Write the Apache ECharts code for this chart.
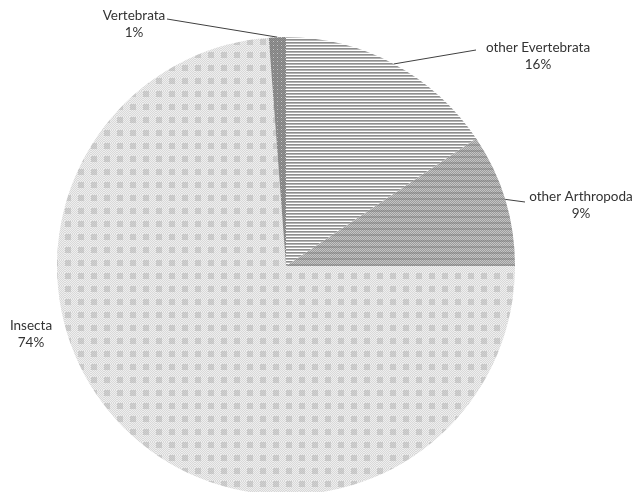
<!DOCTYPE html>
<html><head><meta charset="utf-8">
<script src="https://cdn.jsdelivr.net/npm/echarts@6/dist/echarts.min.js"></script>
<style>html,body{margin:0;padding:0;background:#fff}#c{width:638px;height:492px}</style>
</head><body><div id="c"></div>
<script>
const categories = ['other Evertebrata', 'other Arthropoda', 'Insecta', 'Vertebrata'];
const values = [15.6, 9.4, 73.8, 1.2];

function makePattern(w, h, fn) {
  const c = document.createElement('canvas');
  c.width = w; c.height = h;
  const ctx = c.getContext('2d');
  for (let y = 0; y < h; y++) for (let x = 0; x < w; x++) {
    ctx.fillStyle = fn(x, y);
    ctx.fillRect(x, y, 1, 1);
  }
  return { image: c, repeat: 'repeat' };
}
const patStripes = makePattern(4, 3, (x, y) => y === 0 ? '#8e8e8e' : (y === 1 ? '#b4b4b4' : '#ffffff'));
const patArthro = makePattern(4, 6, (x, y) => {
  if (y < 2) return ((x + y) % 2) ? '#8a8a8a' : '#a6a6a6';
  return ((x + y) % 2) ? '#9c9c9c' : '#c4c4c4';
});
const patInsecta = makePattern(13, 13, (x, y) => {
  const inBlock = (x % 13) < 6 && (y % 13) < 6;
  if (inBlock) return ((x + y) % 2) ? '#c4c4c4' : '#d0d0d0';
  return ((x + y) % 2) ? '#d8d8d8' : '#eeeeee';
});
const patVert = makePattern(4, 4, (x, y) => (x % 4 === 1 && y % 4 === 1) ? '#c8c8c8' : ((x + y) % 2 ? '#808080' : '#939393'));
const patterns = [patStripes, patArthro, patInsecta, patVert];

// label placement (layout only)
const labelPlace = {
  'other Evertebrata': { x: 538, y: 56, line: [476, 50] },
  'other Arthropoda': { x: 581, y: 205, line: [525, 202] },
  'Insecta': { x: 31, y: 334, line: null },
  'Vertebrata': { x: 134, y: 24, line: [167, 19] }
};

const chart = echarts.init(document.getElementById('c'), null, { renderer: 'canvas' });
chart.setOption({
  animation: false,
  series: [{
    type: 'pie',
    center: [286, 266],
    radius: 229,
    startAngle: 90,
    clockwise: true,
    percentPrecision: 0,
    data: categories.map((n, i) => ({
      name: n, value: values[i],
      itemStyle: { color: patterns[i] },
      labelLine: { show: n !== 'Insecta' }
    })),
    itemStyle: { borderWidth: 0 },
    label: {
      show: true,
      formatter: '{b}\n{d}%',
      fontFamily: 'Lato',
      fontSize: 13.5,
      lineHeight: 17,
      color: '#333333',
      align: 'center',
      overflow: 'none',
      width: 200
    },
    labelLine: { show: true, length: 10, length2: 10, lineStyle: { color: '#404040', width: 1 } },
    labelLayout: function (params) {
      const name = categories[params.dataIndex];
      const p = labelPlace[name];
      const res = { x: p.x, y: p.y, align: 'center', verticalAlign: 'middle' };
      if (p.line && params.labelLinePoints) {
        const p0 = params.labelLinePoints[0];
        res.labelLinePoints = [p0, p.line, p.line];
      }
      return res;
    },
    emphasis: { disabled: true }
  }]
});
</script></body></html>
